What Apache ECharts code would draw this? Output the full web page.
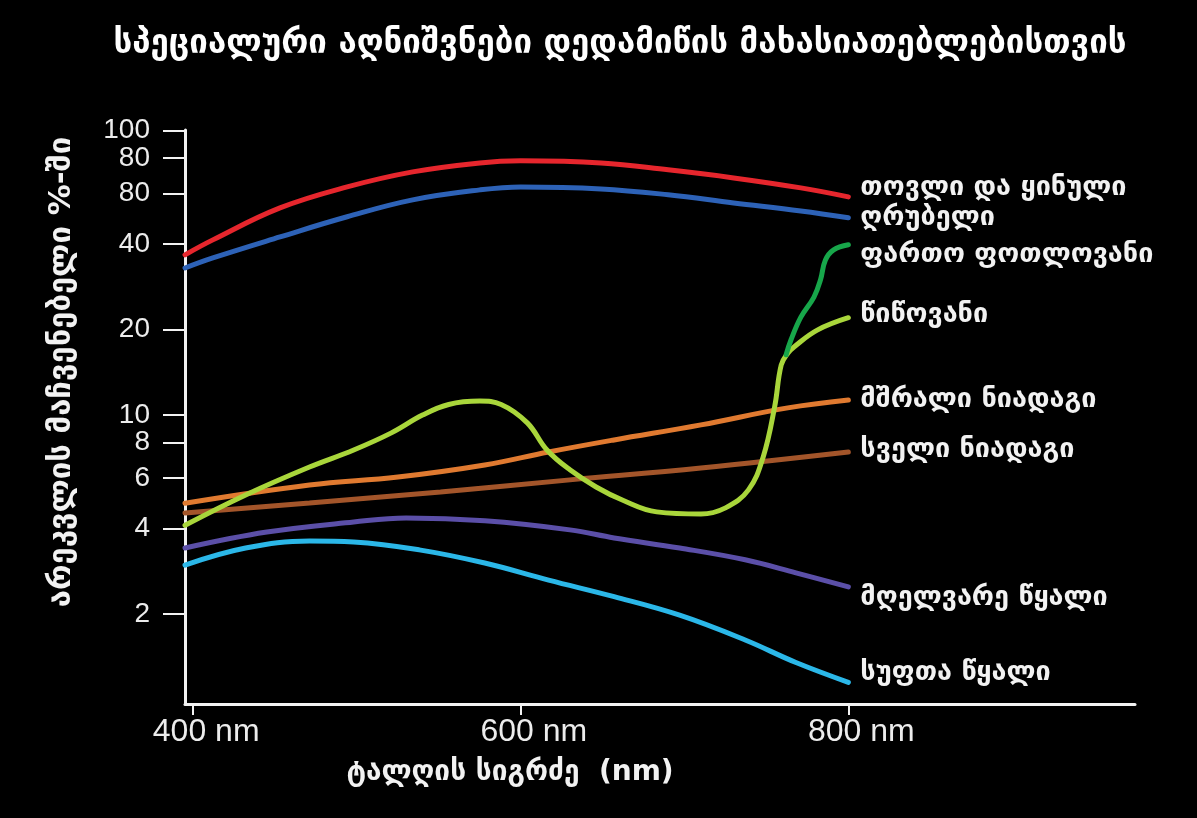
<!DOCTYPE html>
<html><head><meta charset="utf-8">
<script src="https://cdn.jsdelivr.net/npm/echarts@6/dist/echarts.min.js"></script>
<style>html,body{margin:0;padding:0;background:#000}#c{width:1197px;height:818px}</style>
</head><body><div id="c"></div>
<script>
const titleText = 'სპეციალური აღნიშვნები დედამიწის მახასიათებლებისთვის';
const yAxisTitle = 'არეკვლის მაჩვენებელი %-ში';
const xAxisTitle = 'ტალღის სიგრძე  (nm)';

const xTickValues = [400, 600, 800];
const yTickValues = [2, 4, 6, 8, 10, 20, 40, 60, 80, 100];
const yTickLabels = ['2', '4', '6', '8', '10', '20', '40', '80', '80', '100'];

const seriesNames = ['თოვლი და ყინული', 'ღრუბელი', 'ფართო ფოთლოვანი', 'წიწოვანი',
  'მშრალი ნიადაგი', 'სველი ნიადაგი', 'მღელვარე წყალი', 'სუფთა წყალი'];

const snowIceNm  = [395, 412, 453, 494, 534, 575, 600, 649, 690, 730, 771, 800];
const snowIcePct = [36.6, 41.3, 53.5, 63.4, 71.6, 77.0, 78.3, 77.0, 72.8, 68.2, 62.9, 58.5];

const cloudNm  = [395, 412, 453, 494, 534, 575, 600, 649, 690, 730, 771, 800];
const cloudPct = [32.9, 35.7, 42.3, 49.8, 57.1, 61.9, 63.4, 62.4, 59.5, 55.7, 52.2, 49.4];

const broadleafNm  = [762, 765, 771, 779, 783, 786, 791, 800];
const broadleafPct = [16.3, 18.4, 22.1, 26.0, 29.9, 35.1, 38.1, 39.7];

const coniferNm  = [395, 432, 471, 498, 521, 540, 556, 575, 588, 604, 616, 630, 646, 662, 683, 710, 725, 739, 748, 755, 759, 763, 767, 781, 800];
const coniferPct = [4.1, 5.24, 6.57, 7.54, 8.66, 10.0, 10.9, 11.2, 10.9, 9.39, 7.54, 6.42, 5.59, 5.03, 4.57, 4.49, 4.72, 5.46, 7.13, 10.7, 15.0, 16.5, 17.4, 19.9, 22.0];

const drySoilNm  = [395, 471, 525, 578, 617, 657, 710, 763, 800];
const drySoilPct = [4.9, 5.68, 6.06, 6.68, 7.42, 8.18, 9.24, 10.6, 11.3];

const wetSoilNm  = [395, 471, 551, 630, 710, 800];
const wetSoilPct = [4.53, 4.91, 5.37, 5.92, 6.52, 7.42];

const turbidNm  = [395, 445, 498, 530, 578, 630, 657, 697, 737, 768, 800];
const turbidPct = [3.41, 3.88, 4.21, 4.35, 4.25, 3.95, 3.70, 3.41, 3.10, 2.79, 2.49];

const clearNm  = [395, 432, 471, 498, 538, 578, 617, 657, 697, 737, 768, 800];
const clearPct = [2.97, 3.41, 3.61, 3.58, 3.36, 3.02, 2.63, 2.30, 1.98, 1.62, 1.35, 1.15];

const seriesX = [snowIceNm, cloudNm, broadleafNm, coniferNm, drySoilNm, wetSoilNm, turbidNm, clearNm];
const seriesY = [snowIcePct, cloudPct, broadleafPct, coniferPct, drySoilPct, wetSoilPct, turbidPct, clearPct];
const seriesColors = ['#e6262d', '#2d62b7', '#17a64a', '#a9d63b', '#e07a30', '#a3552a', '#5b4fa8', '#2bb7e8'];
const labelOffsets = [[0, -9], [0, 0], [0, 10], [0, -3], [0, 0], [0, -2], [0, 11], [0, -9]];
const drawOrder = [0, 1, 4, 5, 3, 2, 6, 7];

const GEO = '"DejaVu Sans", "Noto Sans", sans-serif';
const NUM = '"Liberation Sans", Arial, sans-serif';

function yLabel(v) {
  const idx = yTickValues.findIndex(function (t) { return Math.abs(t - v) < 1e-3 * t; });
  return idx >= 0 ? yTickLabels[idx] : '';
}

const chart = echarts.init(document.getElementById('c'));
const series = drawOrder.map(function (i, k) {
  return {
    type: 'line',
    name: seriesNames[i],
    yAxisIndex: 0,
    data: seriesX[i].map(function (x, j) { return [x, seriesY[i][j]]; }),
    smooth: 0.4,
    showSymbol: false,
    symbol: 'none',
    z: 2 + k,
    lineStyle: { color: seriesColors[i], width: 5, cap: 'round' },
    itemStyle: { color: seriesColors[i] },
    endLabel: {
      show: true,
      formatter: seriesNames[i],
      color: '#f2f2f2',
      fontFamily: GEO,
      fontWeight: 'bold',
      fontSize: 27,
      distance: 12,
      offset: labelOffsets[i]
    }
  };
});

const yBase = { type: 'log', logBase: 10, min: 0.965, max: 100.5, position: 'left', splitLine: { show: false }, minorTick: { show: false } };
const topValue = yTickValues[yTickValues.length - 1];
const lowerValues = yTickValues.slice(0, yTickValues.length - 1);

chart.setOption({
  backgroundColor: '#000',
  animation: false,
  grid: { left: 185, right: 62, top: 130, bottom: 114, containLabel: false },
  xAxis: {
    type: 'value',
    min: 395,
    max: 975,
    axisLine: { show: true, lineStyle: { color: '#f2f2f2', width: 3 } },
    axisTick: { show: true, customValues: xTickValues, length: 11, lineStyle: { color: '#f2f2f2', width: 2 } },
    axisLabel: {
      customValues: xTickValues,
      formatter: function (v) { return v + ' nm'; },
      color: '#ececec', fontFamily: NUM, fontSize: 32, margin: 12,
      align: 'center', padding: [0, 0, 0, 26]
    },
    splitLine: { show: false }
  },
  yAxis: [
    Object.assign({}, yBase, {
      axisLine: { show: true, onZero: false, lineStyle: { color: '#f2f2f2', width: 3 } },
      axisTick: { show: true, customValues: yTickValues, length: 22, lineStyle: { color: '#f2f2f2', width: 2 } },
      axisLabel: { customValues: lowerValues, formatter: yLabel, color: '#ececec', fontFamily: NUM, fontSize: 28, margin: 35 }
    }),
    Object.assign({}, yBase, {
      axisLine: { show: false },
      axisTick: { show: false },
      axisLabel: { customValues: [topValue], showMaxLabel: true, formatter: yLabel, color: '#ececec', fontFamily: NUM, fontSize: 28, margin: 35 }
    })
  ],
  graphic: [
    { type: 'text', x: 620, y: 44, style: { text: titleText, fill: '#ffffff', font: 'bold 33px ' + GEO, align: 'center', verticalAlign: 'middle' } },
    { type: 'text', x: 510, y: 773, style: { text: xAxisTitle, fill: '#f2f2f2', font: 'bold 28px ' + GEO, align: 'center', verticalAlign: 'middle' } },
    { type: 'text', x: 62, y: 372, rotation: Math.PI / 2, style: { text: yAxisTitle, fill: '#f2f2f2', font: 'bold 31px ' + GEO, align: 'center', verticalAlign: 'middle' } }
  ],
  series: series
});
</script>
</body></html>
